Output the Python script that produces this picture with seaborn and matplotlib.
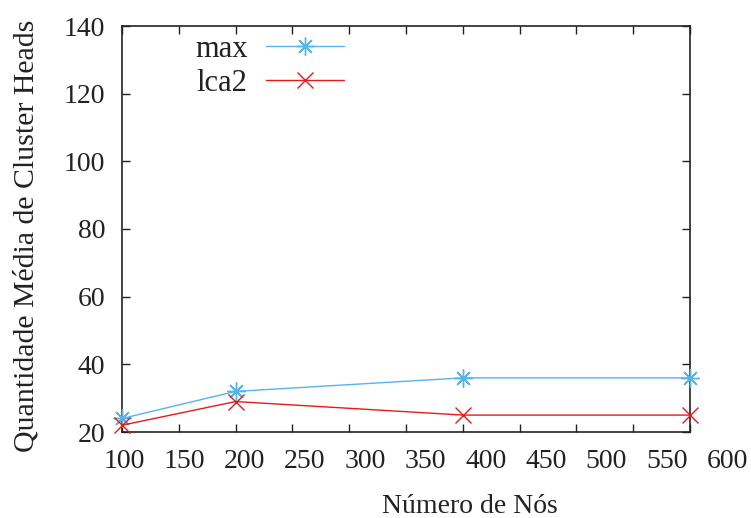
import matplotlib
matplotlib.use("Agg")
import matplotlib.pyplot as plt
import matplotlib.transforms as mtransforms
from matplotlib.lines import Line2D
import seaborn as sns
import pandas as pd

nodes = [100, 200, 400, 600]
max_vals = [24, 32, 36, 36]
lca2_vals = [22, 29, 25, 25]
series_names = ["max", "lca2"]
x_ticks = [100, 150, 200, 250, 300, 350, 400, 450, 500, 550, 600]
y_ticks = [20, 40, 60, 80, 100, 120, 140]

df = pd.DataFrame({
    "x": nodes + nodes,
    "y": max_vals + lca2_vals,
    "serie": [series_names[0]] * len(nodes) + [series_names[1]] * len(nodes),
})

sns.set_style("ticks")
plt.rcParams["font.family"] = ["Liberation Serif", "DejaVu Serif"]

fig = plt.figure(figsize=(7.51, 5.18), dpi=100)
W, H = 751, 518
L, R, T, B = 122, 690, 26, 432
ax = fig.add_axes([L / W, 1 - B / H, (R - L) / W, (B - T) / H])

palette = {"max": "#56b4e9", "lca2": "#e41a1c"}
markers = {"max": (8, 2, 0), "lca2": "x"}
msize = {"max": 13, "lca2": 12}
for n in series_names:
    sub = df[df["serie"] == n]
    sns.lineplot(data=sub, x="x", y="y", color=palette[n], marker=markers[n],
                 markersize=msize[n], linewidth=1.0, markeredgewidth=1.0,
                 markeredgecolor=palette[n], ax=ax, legend=False)
for ln in ax.lines:
    ln.set_clip_on(False)
    ln.set_zorder(3)

ax.set_xlim(100, 600)
ax.set_ylim(20, 140)
ax.set_xticks(x_ticks)
ax.set_yticks(y_ticks)
ax.set_xticklabels([str(v) for v in x_ticks])
ax.set_yticklabels([str(v) for v in y_ticks])
ax.tick_params(direction="in", length=6, width=1, labelsize=20,
               top=True, right=True, colors="#222222", labelcolor="#222222")
ax.tick_params(axis="x", pad=12)
ax.tick_params(axis="y", pad=12)
for s in ax.spines.values():
    s.set_linewidth(1.2)
    s.set_color("#222222")

# gnuplot-like spread of x tick labels
for i, lab in enumerate(ax.get_xticklabels()):
    dx = (2 + 3.5 * i) / 100.0
    lab.set_transform(lab.get_transform() +
                      mtransforms.ScaledTranslation(dx, 0, fig.dpi_scale_trans))

ax.set_xlabel("Número de Nós", fontsize=20, color="#222222")
ax.set_ylabel("Quantidade Média de Cluster Heads", fontsize=21.5, color="#222222")
ax.xaxis.set_label_coords((470 - L) / (R - L), (B - 494) / (B - T))
ax.yaxis.set_label_coords((40 - L) / (R - L), (B - 236) / (B - T))

handles = [Line2D([0], [0], color=palette[n], marker=markers[n], markersize=msize[n],
                  markeredgecolor=palette[n], linewidth=1.0, markeredgewidth=1.0)
           for n in series_names]
leg = ax.legend(handles, series_names, loc="upper left",
                bbox_to_anchor=((195 - L) / (R - L), 1 - (35 - T) / (B - T)),
                frameon=False, markerfirst=False, fontsize=22,
                handlelength=2.55, handletextpad=0.6, labelspacing=0.15,
                borderaxespad=0, borderpad=0, numpoints=1)
for t in leg.get_texts():
    t.set_ha("right")
    t.set_color("#222222")

fig.savefig("out.png", dpi=100)
